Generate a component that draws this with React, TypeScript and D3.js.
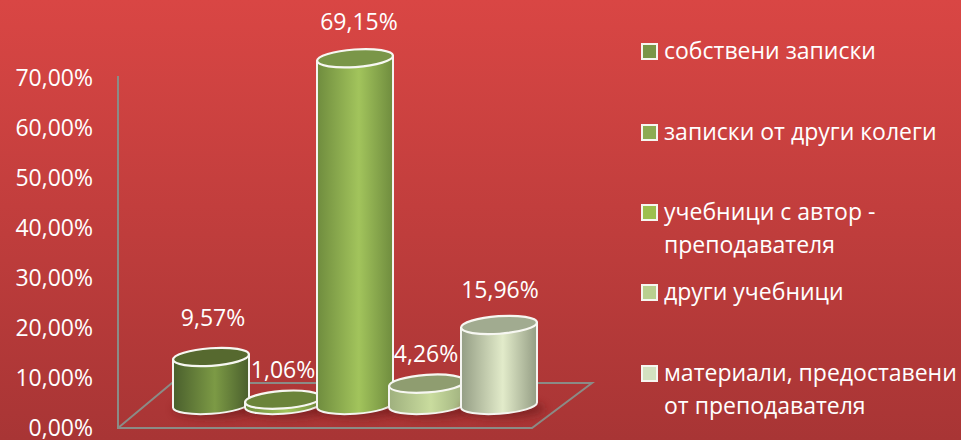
import React from "react";
import * as d3 from "d3";

const categories = ["собствени записки", "записки от други колеги", "учебници с автор - преподавателя", "други учебници", "материали, предоставени от преподавателя"];
const values = [9.57, 1.06, 69.15, 4.26, 15.96];
const valueLabels = ["9,57%", "1,06%", "69,15%", "4,26%", "15,96%"];
const yTicks = [0, 10, 20, 30, 40, 50, 60, 70];
const tickLabels = ["0,00%", "10,00%", "20,00%", "30,00%", "40,00%", "50,00%", "60,00%", "70,00%"];
const barEdge = ["#4a5f2d", "#6d8a3c", "#6f8c3e", "#9fb07e", "#949d84"];
const barLight = ["#7c9a45", "#a2c45c", "#a2c45c", "#c9dc9e", "#e2ebca"];
const barTop = ["#56692f", "#6b843a", "#7a9648", "#8f9d70", "#a1ab90"];
const legendSwatches = ["#7a9648", "#8cab52", "#9cbf4e", "#b9cf8f", "#d3e1c0"];
const legendLines = [["собствени записки"], ["записки от други колеги"], ["учебници с автор -", "преподавателя"], ["други учебници"], ["материали, предоставени", "от преподавателя"]];
const legendY = [51, 132, 212, 292, 373];
const labelPos = [[213, 318], [283, 370], [359, 22], [426, 354], [500, 290]];

const FONT = "'Open Sans', 'Noto Sans', sans-serif";

export default function App() {
  const tickY = d3.scaleLinear().domain([0, 70]).range([428, 78]);
  const barH = d3.scaleLinear().domain([0, 70]).range([0, 351]);
  const x = d3.scaleBand<number>().domain(d3.range(5)).range([175, 535]).padding(0);
  const baseY = 405;
  const rx = 38;
  const ry = 8.8;
  const tilt = -4;
  const dy = rx * Math.sin((-tilt * Math.PI) / 180);
  return (
    <svg width={961} height={440} style={{ position: "fixed", left: 0, top: 0, display: "block" }} fontFamily={FONT}>
      <defs>
        <linearGradient id="bg" x1="0" y1="0" x2="0" y2="1">
          <stop offset="0" stopColor="#d94644" />
          <stop offset="1" stopColor="#a83535" />
        </linearGradient>
        <filter id="blur" x="-30%" y="-100%" width="160%" height="300%"><feGaussianBlur stdDeviation="4" /></filter>
        {values.map((_, i) => (
          <linearGradient key={i} id={`g${i}`} x1="0" y1="0" x2="1" y2="0">
            <stop offset="0" stopColor={barEdge[i]} />
            <stop offset="0.55" stopColor={barLight[i]} />
            <stop offset="1" stopColor={barEdge[i]} />
          </linearGradient>
        ))}
      </defs>
      <rect width={961} height={440} fill="url(#bg)" />
      <path d="M118,76 V428 H532 L592,383 H172 L118,428" fill="none" stroke="#8b8b86" strokeWidth={2} />
      {yTicks.map((t, i) => (
        <text key={t} x={93} y={tickY(t)} dy="0.36em" textAnchor="end" fontSize={23} fill="#fff">{tickLabels[i]}</text>
      ))}
      {values.map((v, i) => {
        const cx = (x(i) as number) + x.bandwidth() / 2;
        const top = baseY - barH(v);
        return (
          <g key={i}>
            <ellipse cx={cx + 4} cy={baseY + 4} rx={rx + 4} ry={ry} fill="#6d1a1a" opacity={0.65} filter="url(#blur)" />
            <path
              d={`M${cx - rx},${top + dy} V${baseY + dy} A${rx},${ry} ${tilt} 0 0 ${cx + rx},${baseY - dy} V${top - dy} Z`}
              fill={`url(#g${i})`} stroke="#f4f4f0" strokeWidth={2} strokeLinejoin="round" />
            <ellipse cx={cx} cy={top} rx={rx} ry={ry} transform={`rotate(${tilt} ${cx} ${top})`}
              fill={barTop[i]} stroke="#f7f7f2" strokeWidth={2.2} />
          </g>
        );
      })}
      {valueLabels.map((l, i) => (
        <text key={i} x={labelPos[i][0]} y={labelPos[i][1]} dy="0.36em" textAnchor="middle" fontSize={23} fill="#fff">{l}</text>
      ))}
      {categories.map((c, i) => (
        <g key={c}>
          <rect x={642} y={legendY[i] - 7} width={15} height={15} fill={legendSwatches[i]} stroke="#f6f6f0" strokeWidth={2} />
          {legendLines[i].map((line, j) => (
            <text key={j} x={664} y={legendY[i] + j * 33} dy="0.34em" fontSize={23} fill="#fff">{line}</text>
          ))}
        </g>
      ))}
    </svg>
  );
}
